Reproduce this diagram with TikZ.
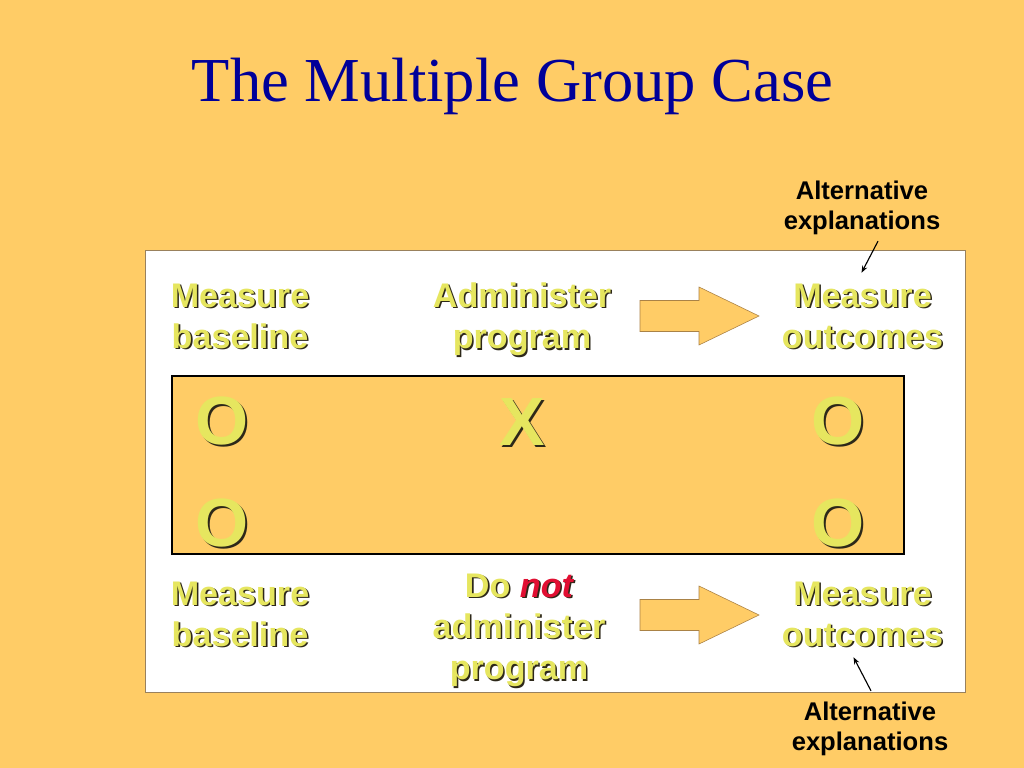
\documentclass[tikz,border=0pt]{standalone}
\usepackage{fontspec}
\setmainfont{Liberation Serif}
\setsansfont{Liberation Sans}
\usetikzlibrary{arrows.meta,calc}
\definecolor{slidebg}{RGB}{255,204,102}
\definecolor{titleblue}{RGB}{0,0,153}
\definecolor{txtyellow}{RGB}{230,230,95}
\definecolor{shadowgray}{RGB}{45,40,25}
\definecolor{hotred}{RGB}{225,15,50}
\definecolor{arrowedge}{RGB}{170,130,70}
\newcommand\hot[1]{\textcolor{hotred}{\itshape #1}}
\newcommand\hotplain[1]{{\itshape #1}}
\newcommand\sh[2][1.1pt]{\rlap{\kern#1\raisebox{-#1}{\color{shadowgray}\let\hot\hotplain#2}}#2}

\begin{document}
\begin{tikzpicture}[x={(0.703125pt,0)}, y={(0,-0.703125pt)}, >={Stealth[length=5pt]},
  lbl/.style={text=txtyellow, font=\sffamily\bfseries\fontsize{24}{29}\selectfont, align=center, inner sep=0pt},
  obs/.style={text=txtyellow, font=\sffamily\bfseries\fontsize{48}{48}\selectfont, inner sep=0pt},
  alt/.style={font=\sffamily\bfseries\fontsize{18}{21}\selectfont, align=center, inner sep=0pt}]
  % slide and frames
  \fill[slidebg] (0,0) rectangle (1024,768);
  \node[anchor=base, text=titleblue, font=\fontsize{44}{50}\selectfont, inner sep=0pt] (title) at (512.5,102) {The Multiple Group Case};
  \draw[fill=white, draw=arrowedge!60!gray] (145,250) rectangle (965,692);
  \draw[fill=slidebg, line width=1pt] (172,376) rectangle (904,554);
  % block arrows
  \foreach \yy in {316,615}
    \draw[fill=slidebg, draw=arrowedge] (640,\yy-15.5) -- (699,\yy-15.5) -- (699,\yy-29) -- (759,\yy)
      -- (699,\yy+29) -- (699,\yy+15.5) -- (640,\yy+15.5) -- cycle;
  % group with program
  \node[lbl] (base1) at (240,317) {\sh{Measure}\\\sh{baseline}};
  \node[lbl] (prog1) at (522,320) {\sh{Administer}\\\sh{program}};
  \node[lbl] (out1) at (862.5,317) {\sh{Measure}\\\sh{outcomes}};
  \node[alt] (alt1) at (862,208) {Alternative\\explanations};
  \draw[->, line width=0.8pt] ($(alt1.south)+(16,6)$) -- ($(out1.north)+(-1,-10.6)$);
  % observations
  \node[obs] (o1) at (222,422) {\sh[1.4pt]{O}};
  \node[obs] (x1) at (522,423) {\sh[1.4pt]{X}};
  \node[obs] (o2) at (838,422) {\sh[1.4pt]{O}};
  \node[obs] (o3) at (222,524) {\sh[1.4pt]{O}};
  \node[obs] (o4) at (838,524) {\sh[1.4pt]{O}};
  % group without program
  \node[lbl] (base2) at (240,615) {\sh{Measure}\\\sh{baseline}};
  \node[lbl, font=\sffamily\bfseries\fontsize{24}{29}\selectfont] (prog2) at (519,631) {\sh{Do \hot{not}}\\\sh{administer}\\\sh{program}};
  \node[lbl] (out2) at (862.5,615) {\sh{Measure}\\\sh{outcomes}};
  \node[alt] (alt2) at (870,729) {Alternative\\explanations};
  \draw[->, line width=0.8pt] ($(alt2.north)+(1,-11)$) -- ($(out2.south)+(-9,8.6)$);
\end{tikzpicture}
\end{document}
